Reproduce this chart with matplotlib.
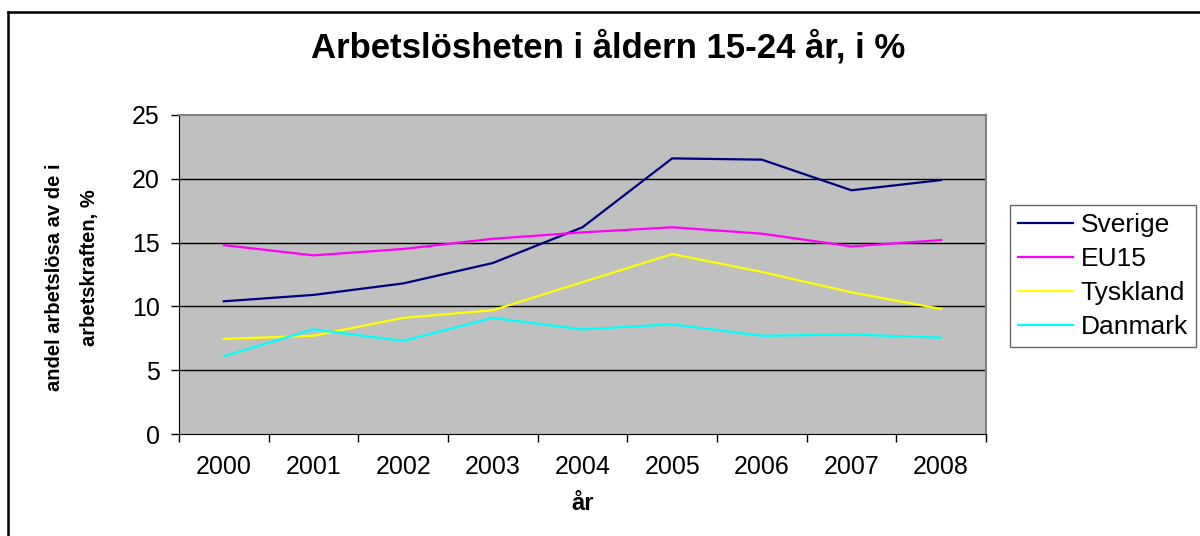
import matplotlib
matplotlib.use("Agg")
import matplotlib.pyplot as plt
from matplotlib.lines import Line2D

years = ["2000", "2001", "2002", "2003", "2004", "2005", "2006", "2007", "2008"]
sverige = [10.4, 10.9, 11.8, 13.4, 16.2, 21.6, 21.5, 19.1, 19.9]
eu15 = [14.8, 14.0, 14.5, 15.3, 15.8, 16.2, 15.7, 14.7, 15.2]
tyskland = [7.45, 7.7, 9.1, 9.7, 11.9, 14.1, 12.7, 11.1, 9.8]
danmark = [6.1, 8.2, 7.3, 9.1, 8.2, 8.6, 7.7, 7.8, 7.55]
series_names = ["Sverige", "EU15", "Tyskland", "Danmark"]
colors = ["#000080", "#FF00FF", "#FFFF00", "#00FFFF"]
yticks = [0, 5, 10, 15, 20, 25]

plt.rcParams['font.family'] = ['Liberation Sans', 'DejaVu Sans']

W, H = 1200, 536
fig = plt.figure(figsize=(W / 100, H / 100), dpi=100)
fig.patch.set_facecolor("white")

ax = fig.add_axes([179 / W, 1 - 434 / H, (986 - 179) / W, (434 - 115) / H])
ax.set_facecolor("#C0C0C0")

x = [i + 0.5 for i in range(len(years))]
for vals, name, c in zip([sverige, eu15, tyskland, danmark], series_names, colors):
    ax.plot(x, vals, color=c, lw=1.6, label=name, solid_joinstyle="miter")

ax.set_xlim(0, len(years))
ax.set_ylim(0, 25)
ax.set_yticks(yticks)
ax.set_yticklabels([str(v) for v in yticks], fontsize=18)
ax.set_xticks(range(len(years) + 1))
ax.set_xticklabels([])
ax.set_xticks(x, minor=True)
ax.set_xticklabels(years, minor=True, fontsize=18)
ax.tick_params(axis="x", which="minor", length=0, pad=15)
ax.tick_params(axis="x", which="major", length=6, width=1, direction="out", color="black")
ax.tick_params(axis="y", length=6, width=1, direction="out", pad=8, color="black")

for v in yticks[1:-1]:
    ax.axhline(v, color="black", lw=1.0, zorder=1)

ax.spines["top"].set_color("#808080")
ax.spines["right"].set_color("#808080")
ax.spines["top"].set_linewidth(1.5)
ax.spines["right"].set_linewidth(1.5)
ax.spines["left"].set_color("black")
ax.spines["bottom"].set_color("black")

fig.text(608 / W, 1 - 47 / H, "Arbetslösheten i åldern 15-24 år, i %", ha="center", va="center",
         fontsize=25, fontweight="bold")
fig.text(583 / W, 1 - 504 / H, "år", ha="center", va="center", fontsize=17, fontweight="bold")
fig.text(55 / W, 1 - 277 / H, "andel arbetslösa av de i", ha="center", va="center",
         rotation=90, fontsize=14.5, fontweight="bold")
fig.text(90 / W, 1 - 268 / H, "arbetskraften, %", ha="center", va="center",
         rotation=90, fontsize=14.5, fontweight="bold")

# outer frame
fig.add_artist(Line2D([8 / W, 1.01], [1 - 12 / H, 1 - 12 / H], transform=fig.transFigure,
                      color="black", lw=1.8))
fig.add_artist(Line2D([8 / W, 8 / W], [1 - 12 / H, -0.01], transform=fig.transFigure,
                      color="black", lw=1.8))

leg = ax.legend(loc="upper left", bbox_to_anchor=(1010 / W, 1 - 205 / H),
                bbox_transform=fig.transFigure, fontsize=19, frameon=True, fancybox=False,
                handlelength=2.1, handletextpad=0.27, labelspacing=0.38, borderpad=0.3,
                borderaxespad=0)
leg.get_frame().set_edgecolor("#404040")
leg.get_frame().set_linewidth(1.0)

fig.savefig("out.png", dpi=100)
